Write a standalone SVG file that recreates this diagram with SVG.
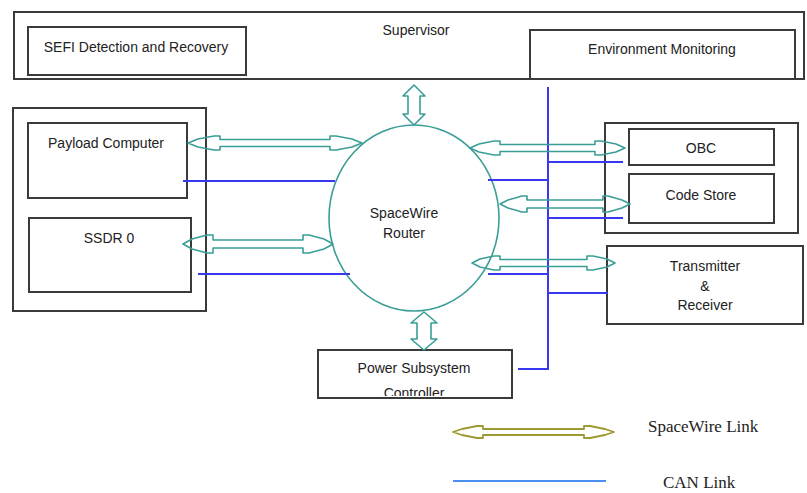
<svg xmlns="http://www.w3.org/2000/svg" width="807" height="493" viewBox="0 0 807 493">
<style>
.box{fill:none;stroke:#3a3a3a;stroke-width:2}
.t{font-family:"Liberation Sans",Arial,sans-serif;font-size:14px;fill:#222;text-anchor:middle}
.lg{font-family:"Liberation Serif","Times New Roman",serif;font-size:17px;fill:#222}
.sw{fill:none;stroke:#3a9e97;stroke-width:1.6;stroke-linejoin:round}
.can{fill:none;stroke:#3838f0;stroke-width:2}
</style>
<defs>
<clipPath id="pclip"><rect x="316" y="348" width="198" height="48"/></clipPath>
</defs>
<rect width="807" height="493" fill="#fff"/>

<g id="supervisor">
<rect class="box" x="14" y="12" width="790" height="67"/>
<text class="t" x="416" y="35">Supervisor</text>
</g>
<g id="sefi">
<rect class="box" x="28" y="27" width="218" height="48"/>
<text class="t" x="136" y="52">SEFI Detection and Recovery</text>
</g>
<g id="envmon">
<rect class="box" x="530" y="30" width="265" height="49"/>
<text class="t" x="662" y="54">Environment Monitoring</text>
</g>

<g id="left-group">
<rect class="box" x="13" y="108" width="193" height="203"/>
</g>
<g id="payload">
<rect class="box" x="28" y="123" width="159" height="75"/>
<text class="t" x="106" y="148">Payload Computer</text>
</g>
<g id="ssdr">
<rect class="box" x="29" y="218" width="162" height="74"/>
<text class="t" x="109" y="243">SSDR 0</text>
</g>

<g id="router">
<ellipse cx="414" cy="218" rx="85" ry="93" fill="none" stroke="#3a9e97" stroke-width="1.6"/>
<text class="t" x="404" y="218">SpaceWire</text>
<text class="t" x="404" y="238">Router</text>
</g>

<g id="right-group">
<rect class="box" x="605" y="123" width="193" height="110"/>
</g>
<g id="obc">
<rect class="box" x="629" y="129" width="145" height="36"/>
<text class="t" x="701" y="153">OBC</text>
</g>
<g id="codestore">
<rect class="box" x="629" y="174" width="145" height="49"/>
<text class="t" x="701" y="200">Code Store</text>
</g>
<g id="transceiver">
<rect class="box" x="607" y="246" width="196" height="78"/>
<text class="t" x="705" y="271">Transmitter</text>
<text class="t" x="705" y="291">&amp;</text>
<text class="t" x="705" y="310">Receiver</text>
</g>
<g id="power">
<rect class="box" x="318" y="350" width="194" height="48"/>
<g clip-path="url(#pclip)">
<text class="t" x="414" y="373">Power Subsystem</text>
<text class="t" x="414" y="398">Controller</text>
</g>
</g>

<g id="connectors">
<path class="can" d="M183,181 H335"/>
<path class="can" d="M198,274 H350"/>
<path class="can" d="M548,87 V369 H518"/>
<path class="can" d="M548,162 H623"/>
<path class="can" d="M488,180 H548"/>
<path class="can" d="M548,218 H623"/>
<path class="can" d="M488,274 H548"/>
<path class="can" d="M548,293 H608"/>
<path class="sw" d="M188,143 L198,139 L214,136 L220,136 L220,139.5 L330,139.5 L330,136 L336,136 L352,139 L362,143 L352,147 L336,150 L330,150 L330,146.5 L220,146.5 L220,150 L214,150 L198,147 Z"/>
<path class="sw" d="M183,244 L192,239 L207,235 L213,235 L213,240 L303,240 L303,235 L309,235 L324,239 L333,244 L324,249 L309,253 L303,253 L303,248 L213,248 L213,253 L207,253 L192,249 Z"/>
<path class="sw" d="M470,148 L479,144 L494,141 L500,141 L500,144.5 L595,144.5 L595,141 L601,141 L616,144 L625,148 L616,152 L601,155 L595,155 L595,151.5 L500,151.5 L500,155 L494,155 L479,152 Z"/>
<path class="sw" d="M500,204 L508,200 L522,196 L527,196 L527,200 L603,200 L603,196 L608,196 L622,200 L630,204 L622,208 L608,212 L603,212 L603,208 L527,208 L527,212 L522,212 L508,208 Z"/>
<path class="sw" d="M472,263 L480,259 L494,256 L500,256 L500,259.5 L587,259.5 L587,256 L593,256 L607,259 L615,263 L607,267 L593,270 L587,270 L587,266.5 L500,266.5 L500,270 L494,270 L480,267 Z"/>
<path class="sw" d="M414,85 L425,96 L420,96 L420,114 L425,114 L414,125 L403,114 L408,114 L408,96 L403,96 Z"/>
<path class="sw" d="M424,312 L437,323 L431,323 L431,339 L437,339 L424,350 L411,339 L417,339 L417,323 L411,323 Z"/>
</g>

<g id="legend">
<path d="M453,432 L462,429 L477,426 L483,426 L483,429 L584,429 L584,426 L590,426 L605,429 L614,432 L605,435 L590,438 L584,438 L584,435 L483,435 L483,438 L477,438 L462,435 Z" fill="none" stroke="#9c9a30" stroke-width="1.8" stroke-linejoin="round"/>
<text class="lg" x="648" y="432">SpaceWire Link</text>
<path d="M453,481 H606" stroke="#4a8ff2" stroke-width="2"/>
<text class="lg" x="663" y="488">CAN Link</text>
</g>
</svg>
